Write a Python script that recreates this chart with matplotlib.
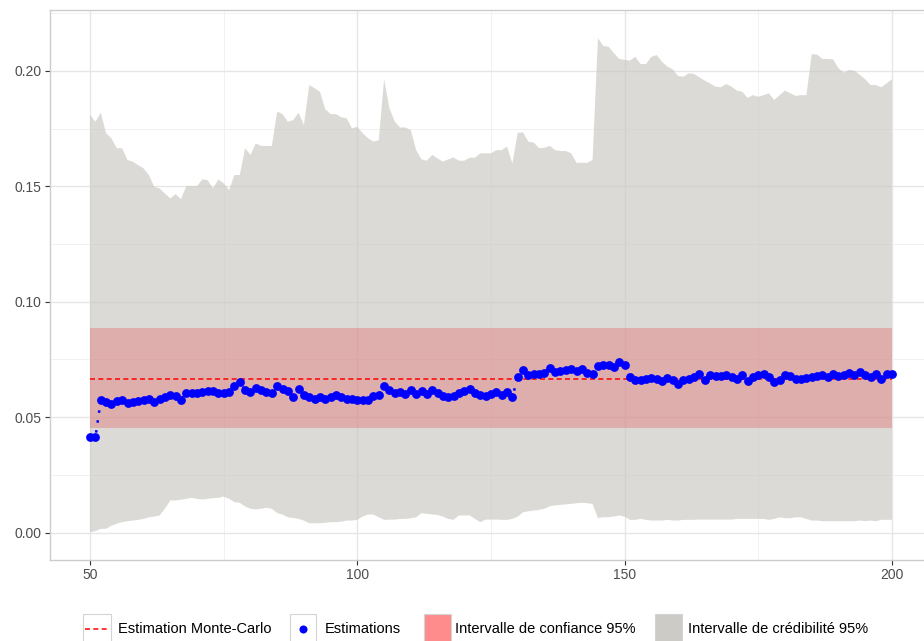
import numpy as np
import matplotlib
matplotlib.use("Agg")
import matplotlib.pyplot as plt
from matplotlib.patches import Rectangle
from matplotlib.lines import Line2D
from matplotlib.transforms import Affine2D

plt.rcParams['font.family'] = ['Liberation Sans', 'DejaVu Sans']
plt.rcParams['lines.scale_dashes'] = False

# ---------------- data ----------------
n_start, n_end = 50, 200
x_vals = list(range(n_start, n_end + 1))

estimations = [
    0.0413, 0.0413, 0.0573, 0.0565, 0.0558, 0.0570, 0.0573, 0.0563, 0.0565, 0.0570,
    0.0576, 0.0580, 0.0565, 0.0577, 0.0587, 0.0594, 0.0590, 0.0576, 0.0604, 0.0604,
    0.0605, 0.0609, 0.0612, 0.0612, 0.0606, 0.0604, 0.0609, 0.0633, 0.0652, 0.0619,
    0.0609, 0.0626, 0.0616, 0.0609, 0.0604, 0.0635, 0.0623, 0.0613, 0.0587, 0.0623,
    0.0597, 0.0587, 0.0580, 0.0587, 0.0580, 0.0587, 0.0597, 0.0587, 0.0580, 0.0580,
    0.0576,                                                            # 100
    0.0573, 0.0576, 0.0590, 0.0594, 0.0633, 0.0616, 0.0606, 0.0609, 0.0599, 0.0616,
    0.0602, 0.0613, 0.0602, 0.0616, 0.0604, 0.0592, 0.0587, 0.0592, 0.0606, 0.0613,
    0.0623, 0.0606, 0.0594, 0.0590, 0.0602, 0.0609, 0.0597, 0.0609, 0.0587, 0.0674,
    0.0706, 0.0681, 0.0685, 0.0688, 0.0692, 0.0714, 0.0696, 0.0700, 0.0706, 0.0707,
    0.0700, 0.0710, 0.0692, 0.0685, 0.0720, 0.0724, 0.0724, 0.0717, 0.0737, 0.0724,  # 150
    0.0674, 0.0662, 0.0663, 0.0666, 0.0671, 0.0666, 0.0656, 0.0671, 0.0662, 0.0645,
    0.0659, 0.0666, 0.0674, 0.0685, 0.0659, 0.0681, 0.0677, 0.0677, 0.0681, 0.0674,
    0.0666, 0.0681, 0.0656, 0.0674, 0.0681, 0.0688, 0.0674, 0.0652, 0.0662, 0.0681,
    0.0677, 0.0666, 0.0666, 0.0671, 0.0674, 0.0677, 0.0681, 0.0674, 0.0685, 0.0677,
    0.0681, 0.0692, 0.0681, 0.0696, 0.0681, 0.0674, 0.0688, 0.0666, 0.0685, 0.0685,  # 200
]

cred_upper = [
    0.1809, 0.1780, 0.1819, 0.1730, 0.1708, 0.1665, 0.1665, 0.1614, 0.1607, 0.1592,
    0.1578, 0.1549, 0.1498, 0.1491, 0.1469, 0.1448, 0.1466, 0.1445, 0.1501, 0.1501,
    0.1501, 0.1530, 0.1527, 0.1491, 0.1530, 0.1513, 0.1484, 0.1549, 0.1549, 0.1665,
    0.1636, 0.1686, 0.1675, 0.1675, 0.1675, 0.1824, 0.1813, 0.1780, 0.1787, 0.1819,
    0.1766, 0.1939, 0.1925, 0.1910, 0.1834, 0.1813, 0.1813, 0.1799, 0.1795, 0.1751,
    0.1758,                                                            # 100
    0.1730, 0.1708, 0.1694, 0.1700, 0.1964, 0.1838, 0.1780, 0.1755, 0.1755, 0.1744,
    0.1657, 0.1617, 0.1611, 0.1636, 0.1621, 0.1607, 0.1617, 0.1625, 0.1611, 0.1611,
    0.1624, 0.1624, 0.1643, 0.1643, 0.1643, 0.1657, 0.1657, 0.1672, 0.1599, 0.1732,
    0.1734, 0.1693, 0.1690, 0.1665, 0.1667, 0.1675, 0.1657, 0.1653, 0.1653, 0.1643,
    0.1602, 0.1602, 0.1602, 0.1614, 0.2142, 0.2108, 0.2105, 0.2077, 0.2052, 0.2048,  # 150
    0.2045, 0.2061, 0.2030, 0.2030, 0.2061, 0.2069, 0.2040, 0.2019, 0.2007, 0.1978,
    0.1975, 0.1990, 0.1987, 0.1972, 0.1958, 0.1946, 0.1932, 0.1929, 0.1943, 0.1932,
    0.1915, 0.1910, 0.1883, 0.1895, 0.1888, 0.1895, 0.1903, 0.1874, 0.1895, 0.1915,
    0.1903, 0.1892, 0.1895, 0.1895, 0.2073, 0.2071, 0.2052, 0.2052, 0.2050, 0.2012,
    0.1993, 0.2004, 0.2001, 0.1983, 0.1964, 0.1939, 0.1939, 0.1929, 0.1946, 0.1964,  # 200
]

cred_lower = [
    0.0001, 0.0006, 0.0016, 0.0016, 0.0030, 0.0038, 0.0045, 0.0049, 0.0052, 0.0055,
    0.0059, 0.0066, 0.0069, 0.0074, 0.0103, 0.0139, 0.0139, 0.0142, 0.0146, 0.0150,
    0.0146, 0.0143, 0.0146, 0.0149, 0.0150, 0.0156, 0.0146, 0.0132, 0.0129, 0.0113,
    0.0103, 0.0100, 0.0103, 0.0107, 0.0103, 0.0084, 0.0078, 0.0066, 0.0063, 0.0059,
    0.0052, 0.0040, 0.0040, 0.0040, 0.0042, 0.0045, 0.0045, 0.0047, 0.0052, 0.0052,
    0.0055,                                                            # 100
    0.0069, 0.0078, 0.0078, 0.0066, 0.0055, 0.0056, 0.0056, 0.0059, 0.0059, 0.0062,
    0.0066, 0.0084, 0.0081, 0.0078, 0.0076, 0.0069, 0.0059, 0.0055, 0.0074, 0.0074,
    0.0074, 0.0059, 0.0045, 0.0056, 0.0056, 0.0056, 0.0055, 0.0055, 0.0059, 0.0069,
    0.0088, 0.0092, 0.0095, 0.0098, 0.0103, 0.0114, 0.0117, 0.0120, 0.0122, 0.0124,
    0.0127, 0.0129, 0.0127, 0.0124, 0.0063, 0.0066, 0.0066, 0.0069, 0.0074, 0.0069,  # 150
    0.0055, 0.0055, 0.0059, 0.0055, 0.0052, 0.0052, 0.0052, 0.0055, 0.0052, 0.0052,
    0.0055, 0.0055, 0.0055, 0.0056, 0.0056, 0.0056, 0.0056, 0.0056, 0.0056, 0.0056,
    0.0059, 0.0059, 0.0059, 0.0059, 0.0059, 0.0059, 0.0055, 0.0059, 0.0066, 0.0062,
    0.0062, 0.0066, 0.0066, 0.0059, 0.0052, 0.0052, 0.0049, 0.0049, 0.0049, 0.0049,
    0.0049, 0.0049, 0.0049, 0.0052, 0.0049, 0.0052, 0.0049, 0.0055, 0.0055, 0.0055,  # 200
]

monte_carlo = 0.0665
conf_low, conf_high = 0.0454, 0.0885

x_ticks = [50, 100, 150, 200]
y_ticks = [0.00, 0.05, 0.10, 0.15, 0.20]
y_tick_labels = ["0.00", "0.05", "0.10", "0.15", "0.20"]
legend_labels = ["Estimation Monte-Carlo", "Estimations",
                 "Intervalle de confiance 95%", "Intervalle de crédibilité 95%"]

# ---------------- figure ----------------
W, H = 924, 641
fig = plt.figure(figsize=(W / 100, H / 100), dpi=100)
ax = fig.add_axes([50 / W, (H - 560) / H, 882 / W, 550 / H])

x = np.array(x_vals)
ax.set_xlim(42.5, 207.5)
ax.set_ylim(-0.0119, 0.2264)

# grid
ax.set_axisbelow(True)
ax.set_xticks(x_ticks)
ax.set_xticks([75, 125, 175], minor=True)
ax.set_yticks(y_ticks)
ax.set_yticks([0.025, 0.075, 0.125, 0.175, 0.225], minor=True)
ax.set_yticklabels(y_tick_labels)
ax.grid(which='major', color='#E6E6E6', linewidth=1.0)
ax.grid(which='minor', color='#EFEFEF', linewidth=0.6)
ax.tick_params(which='minor', length=0)
ax.tick_params(which='major', length=3.5, width=0.8, color='#333333',
               labelsize=10, labelcolor='#4D4D4D', pad=2.5)
for s in ax.spines.values():
    s.set_color('#CCCCCC')
    s.set_linewidth(1.0)

# credibility ribbon
ax.fill_between(x, cred_lower, cred_upper, facecolor='#C9C7C0', alpha=0.65,
                linewidth=0, zorder=2)
# confidence band
ax.fill_between([x_vals[0], x_vals[-1]], [conf_low, conf_low], [conf_high, conf_high],
                facecolor=(231 / 255, 73 / 255, 75 / 255), alpha=0.30, linewidth=0, zorder=3)
# Monte-Carlo line
ax.plot([x_vals[0], x_vals[-1]], [monte_carlo, monte_carlo], color='#FF0000',
        linewidth=1.1, dashes=(3.6, 2.4), zorder=4)
# estimations: dotted line + points
ax.plot(x, estimations, color='#0000FF', linewidth=1.8, dashes=(1.8, 5.4), zorder=5)
ax.scatter(x, estimations, s=40, color='#0000FF', linewidths=0, zorder=6)

# ---------------- legend (manual, pixel coords) ----------------
tr = Affine2D().scale(1 / W, -1 / H).translate(0, 1) + fig.transFigure
key_top, key_h = 614, 30
yc = 629
keys = [(83, 111), (290, 316), (424, 451), (655, 682)]
text_x = [118, 325, 455, 688]

fig.patches.append(Rectangle((keys[0][0], key_top), keys[0][1] - keys[0][0], key_h,
                             transform=tr, facecolor='white', edgecolor='#D4D4D4', lw=0.8))
fig.lines.append(Line2D([85, 109], [yc, yc], transform=tr, color='#FF0000', lw=1.1,
                        dashes=(3.6, 2.4)))
fig.patches.append(Rectangle((keys[1][0], key_top), keys[1][1] - keys[1][0], key_h,
                             transform=tr, facecolor='white', edgecolor='#D4D4D4', lw=0.8))
fig.lines.append(Line2D([(keys[1][0] + keys[1][1]) / 2], [yc], transform=tr, marker='o',
                        markersize=5.8, color='#0000FF', markeredgewidth=0, linestyle='none'))
fig.patches.append(Rectangle((keys[2][0], key_top), keys[2][1] - keys[2][0], key_h,
                             transform=tr, facecolor='#FF8C8C', edgecolor='#D4D4D4', lw=0.8))
fig.patches.append(Rectangle((keys[3][0], key_top), keys[3][1] - keys[3][0], key_h,
                             transform=tr, facecolor='#CDCBC5', edgecolor='#D4D4D4', lw=0.8))
for tx, lab in zip(text_x, legend_labels):
    fig.text(tx, yc, lab, transform=tr, fontsize=10.5, color='#000000',
             ha='left', va='center')

fig.savefig("out.png", dpi=100)
